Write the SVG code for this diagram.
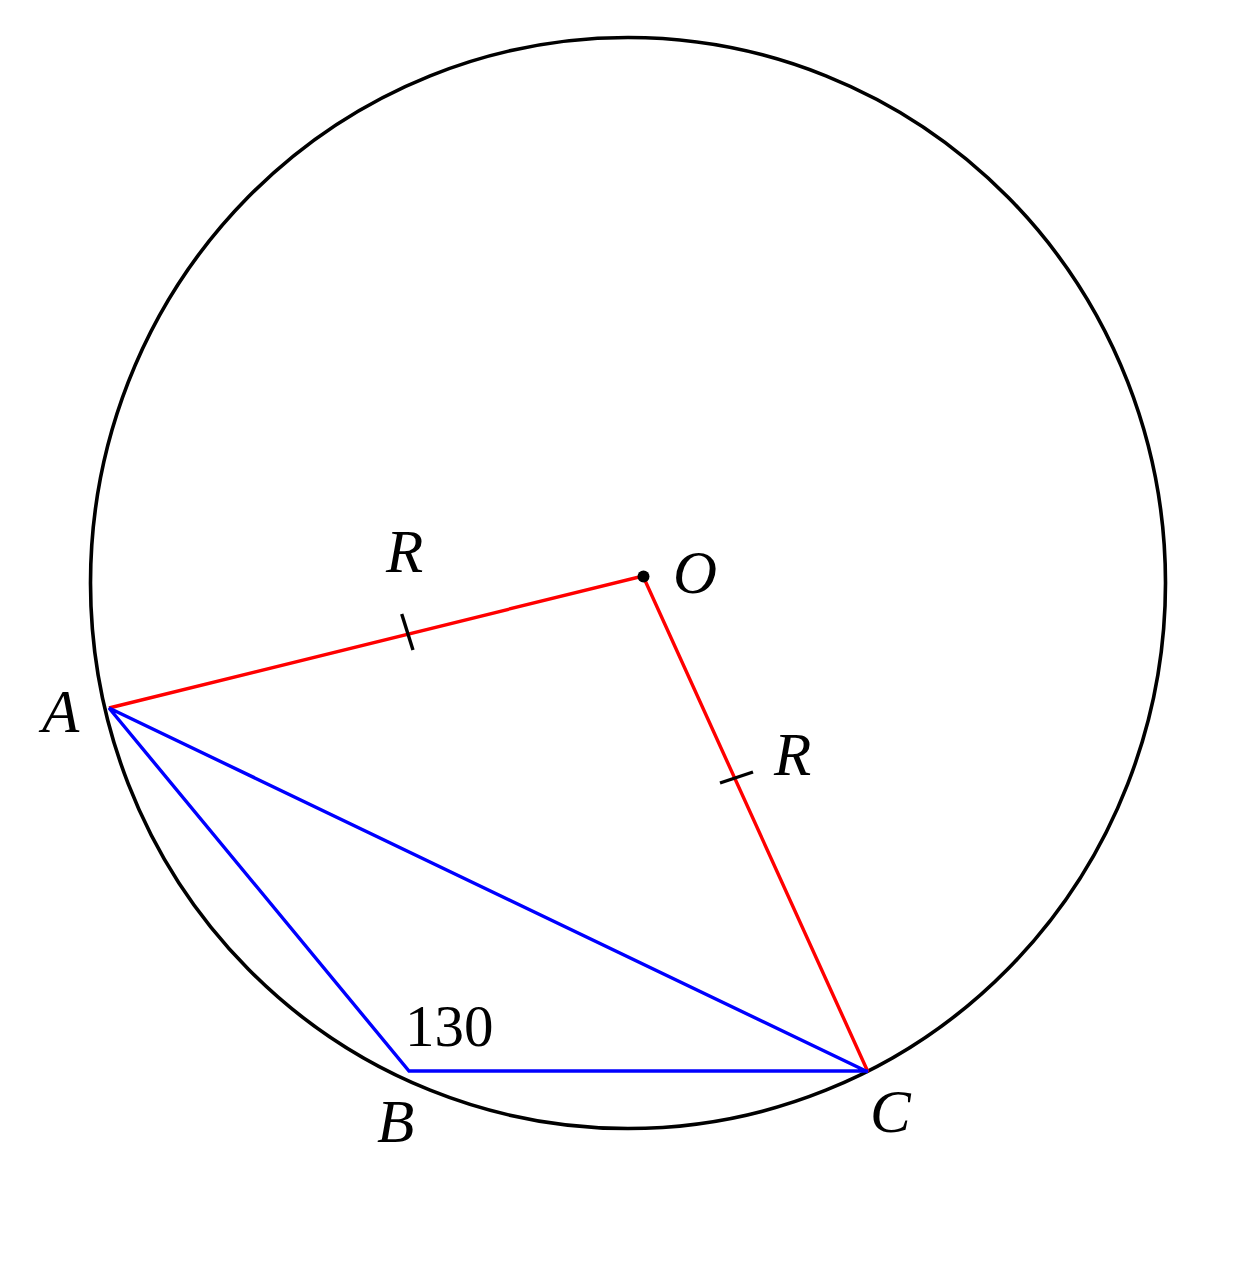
<svg xmlns="http://www.w3.org/2000/svg" width="1237" height="1272" viewBox="0 0 1237 1272">
<style>
.circ{fill:none;stroke:#000;stroke-width:3.6}
.red{stroke:#ff0000;stroke-width:3.4;fill:none}
.blue{stroke:#0000ff;stroke-width:3.4;fill:none;stroke-linejoin:miter}
.tick{stroke:#000;stroke-width:3.4}
.lbl{font-family:"Liberation Serif","DejaVu Serif",serif;font-style:italic;font-size:61px;fill:#000}
.num{font-family:"Liberation Serif","DejaVu Serif",serif;font-size:59px;fill:#000}
</style>
<rect width="1237" height="1272" fill="#fff"/>
<g id="circle"><ellipse class="circ" cx="628" cy="583" rx="537.5" ry="545.5"/></g>
<g id="connectors">
<polyline class="red" points="109,708 643,576 868,1072"/>
<polyline class="blue" points="868,1072 109,708 409,1071 868,1071"/>
<line class="tick" x1="401.7" y1="614" x2="413" y2="650"/>
<line class="tick" x1="720" y1="783" x2="753" y2="772"/>
</g>
<g id="O"><circle cx="643.5" cy="576.5" r="6" fill="#000"/><text class="lbl" x="673" y="593">O</text></g>
<g id="A"><text class="lbl" x="42" y="732">A</text></g>
<g id="B"><text class="lbl" x="377" y="1142">B</text></g>
<g id="C"><text class="lbl" x="870" y="1132">C</text></g>
<g id="R1"><text class="lbl" x="386" y="572">R</text></g>
<g id="R2"><text class="lbl" x="774" y="775">R</text></g>
<g id="angle"><text class="num" x="405" y="1046">130</text></g>
</svg>
